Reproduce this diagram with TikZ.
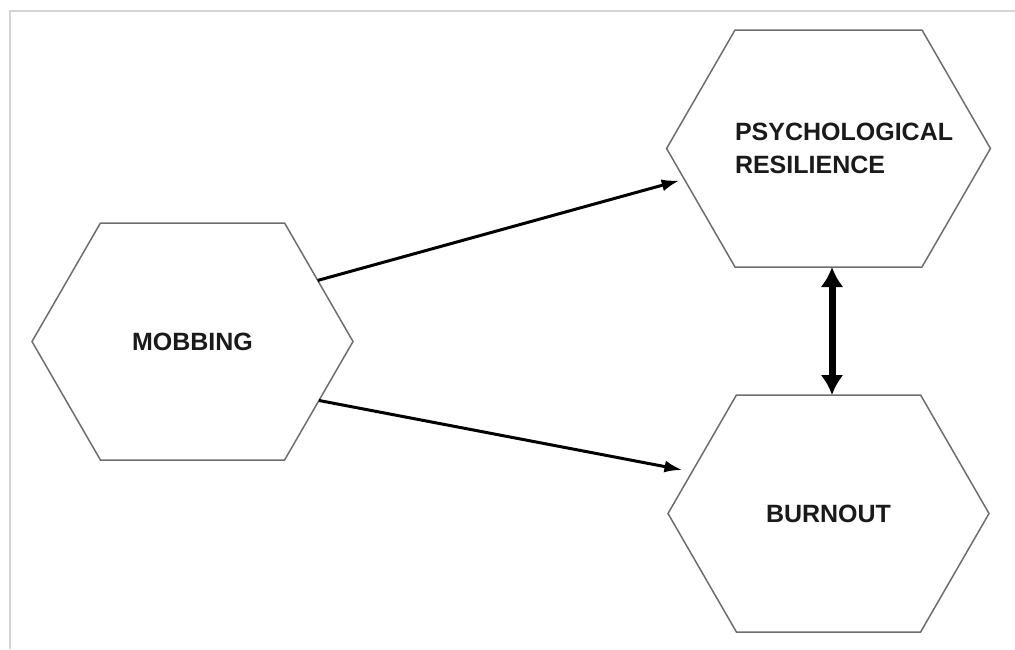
\documentclass[tikz,border=0pt]{standalone}
\usepackage{fontspec}
\setsansfont{Liberation Sans}
\usetikzlibrary{shapes.symbols, arrows.meta}
\definecolor{Ink}{HTML}{1A1A1A}
\definecolor{Edge}{HTML}{6E6E6E}
\definecolor{Frame}{HTML}{D4D4D4}

\begin{document}
\begin{tikzpicture}[x=0.5pt, y=-0.5pt,
    hexa/.style={signal, signal to=west and east, signal pointer angle=120, draw=Edge, line width=0.75pt, fill=white, minimum width=160.5pt, minimum height=118.5pt, inner sep=0pt, outer sep=0pt, align=left, font=\sffamily\bfseries\fontsize{12.5}{16.5}\selectfont, text=Ink},
    arrow/.style={-{Latex[length=9pt,width=6pt]}, line width=1.5pt, color=black},
    biarrow/.style={{Latex[length=10pt,width=11.5pt]}-{Latex[length=10pt,width=11.5pt]}, line width=3.5pt, color=black}
  ]
  \useasboundingbox (0,0) rectangle (1015,649);
  % Frame (only top and left edges show)
  \draw[Frame, line width=1pt] (10,649) |- (1015,11);

  % Constructs
  \node[hexa] (mobbing) at (192.5,341.5) {MOBBING};
  \node[hexa, text width=93.5pt] (resilience) at (828.5,148.5) {PSYCHOLOGICAL\\RESILIENCE};
  \node[hexa] (burnout) at (828.5,513.5) {BURNOUT};

  % Paths
  \draw[arrow, shorten >=2.4pt] (mobbing.26.66) -- (resilience.192.88);
  \draw[arrow, shorten >=4.9pt] (mobbing.335.7) -- (burnout.163.46);
  \draw[biarrow] ([xshift=1.75pt]resilience.south) -- ([xshift=1.75pt]burnout.north);
\end{tikzpicture}
\end{document}
